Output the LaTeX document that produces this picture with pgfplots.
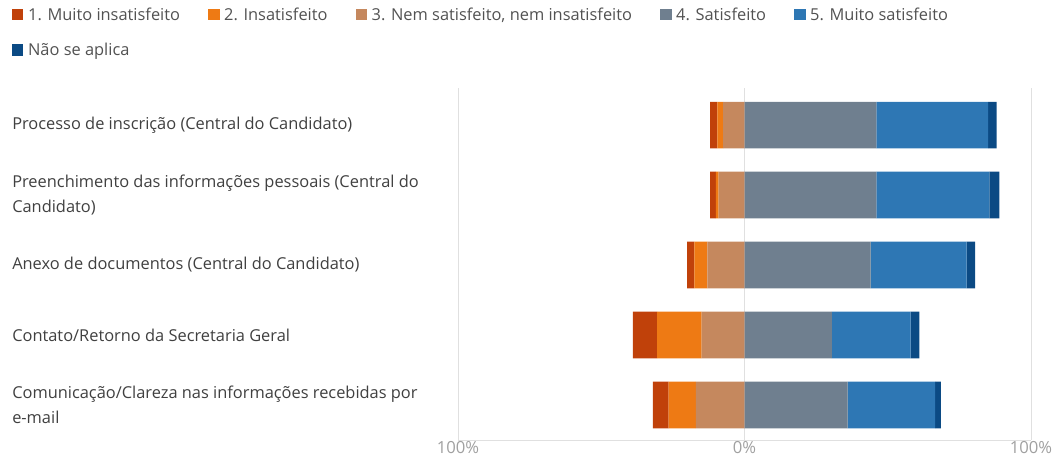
\documentclass[border=0pt]{standalone}
\usepackage{fontspec}
\setmainfont{Open Sans}
\usepackage{pgfplots}
\usepackage{pgfplotstable}
\pgfplotsset{compat=1.18}
\definecolor{cA}{HTML}{C0410A}
\definecolor{cB}{HTML}{EE7A14}
\definecolor{cC}{HTML}{C5885E}
\definecolor{cD}{HTML}{6F7F8F}
\definecolor{cE}{HTML}{2E77B4}
\definecolor{cF}{HTML}{0B4A84}
\definecolor{lab}{HTML}{404040}
\definecolor{tick}{HTML}{A0A0A0}
\pgfplotstableread{
idx d1 d2 d3 s4 s5 na
0 2.5 2 7.5 46 39 3
1 2 1 9 46 39.5 3.5
2 2.5 4.5 13 44 33.5 3
3 8.5 15.5 15 30.5 27.5 3
4 5.5 9.5 17 36 30.5 2
}\data
\pgfplotsset{base/.style={scale only axis, width=429.75pt, height=264pt,
  xmin=-100, xmax=100, ymin=-0.53, ymax=4.5, y dir=reverse,
  xbar stacked, bar width=35pt}}
\begin{document}
\begin{tikzpicture}
\begin{axis}[base, name=main,
  axis x line*=bottom, axis y line*=left,
  x axis line style={draw=black!12}, y axis line style={draw=none},
  xtick={-100,0,100}, xticklabels={100\%,0\%,100\%},
  xmajorgrids, grid style={draw=black!12},
  major tick length=0pt,
  xticklabel style={font=\fontsize{12.5}{14}\selectfont, text=tick, inner sep=1pt, anchor=north},
  ytick={0,1,2,3,4},
  yticklabels={{Processo de inscrição (Central do Candidato)},
    {Preenchimento das informações pessoais (Central do\\Candidato)},
    {Anexo de documentos (Central do Candidato)},
    {Contato/Retorno da Secretaria Geral},
    {Comunicação/Clareza nas informações recebidas por\\e-mail}},
  yticklabel style={anchor=west, xshift=-334.5pt, align=left, inner sep=0pt,
    font=\fontsize{12.3}{18.75}\selectfont, text=lab},
]
\addplot[fill=cC, draw=none, forget plot] table[y=idx, x expr=-\thisrow{d3}] {\data};
\addplot[fill=cB, draw=none, forget plot] table[y=idx, x expr=-\thisrow{d2}] {\data};
\addplot[fill=cA, draw=none, forget plot] table[y=idx, x expr=-\thisrow{d1}] {\data};
\end{axis}
\begin{axis}[base, hide axis,
  legend columns=5,
  legend style={at={(0,1)}, anchor=north west, xshift=-334.5pt, yshift=62.5pt,
    draw=none, fill=none, inner sep=0pt,
    font=\fontsize{12.3}{14}\selectfont, text=black!68,
    /tikz/every odd column/.append style={column sep=1.5pt},
    /tikz/every even column/.append style={column sep=19.2pt},
    row sep=11.5pt},
  legend cell align=left,
  legend image code/.code={\fill[#1] (0pt,-4.2pt) rectangle (8.4pt,4.2pt);},
]
\addplot[fill=cD, draw=none, forget plot] table[y=idx, x=s4] {\data};
\addplot[fill=cE, draw=none, forget plot] table[y=idx, x=s5] {\data};
\addplot[fill=cF, draw=none, forget plot] table[y=idx, x=na] {\data};
\addlegendimage{fill=cA, draw=none}\addlegendentry{1. Muito insatisfeito}
\addlegendimage{fill=cB, draw=none}\addlegendentry{2. Insatisfeito}
\addlegendimage{fill=cC, draw=none}\addlegendentry{3. Nem satisfeito, nem insatisfeito}
\addlegendimage{fill=cD, draw=none}\addlegendentry{4. Satisfeito}
\addlegendimage{fill=cE, draw=none}\addlegendentry{5. Muito satisfeito}
\addlegendimage{fill=cF, draw=none}\addlegendentry{Não se aplica}
\end{axis}
\pgfresetboundingbox
\path ([shift={(-343.5pt,-14.25pt)}]main.south west) rectangle ([shift={(21pt,66pt)}]main.north east);
\end{tikzpicture}
\end{document}
